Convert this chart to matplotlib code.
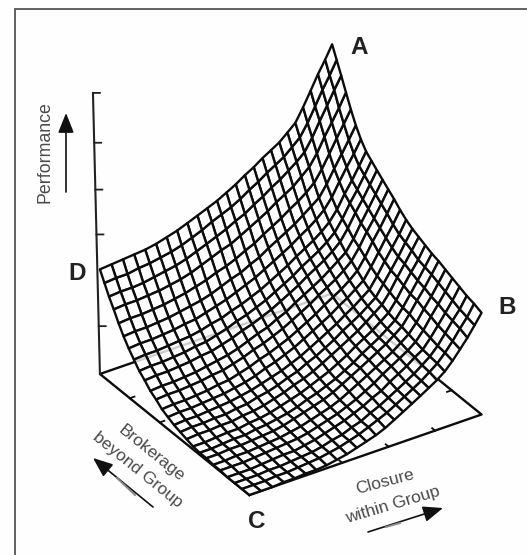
import numpy as np
import matplotlib
matplotlib.use("Agg")
import matplotlib.pyplot as plt
from matplotlib.patches import FancyArrowPatch
from mpl_toolkits.mplot3d import proj3d

plt.rcParams['font.family'] = ['Liberation Sans', 'DejaVu Sans']

# Performance surface (rows: brokerage, columns: closure)
performance = [
 [0,0,0,1,1,2,2,3,5,7,10,13,16,20,25,30,35,40,45,50,56,64,73,82,92,102],
 [0,0,0,1,1,2,3,4,6,8,11,14,18,22,26,31,36,41,46,52,58,66,75,85,94,105],
 [0,0,0,1,1,2,3,4,6,9,11,15,18,23,27,32,37,42,47,53,59,67,77,87,96,107],
 [0,0,0,1,2,3,3,5,7,10,13,16,20,24,29,33,39,44,49,55,60,69,79,89,99,110],
 [1,1,1,2,3,4,5,6,8,11,14,17,21,25,30,35,41,46,51,56,62,71,82,92,102,113],
 [1,1,2,2,3,4,5,7,9,12,15,18,22,27,32,37,42,47,52,58,64,73,84,94,105,116],
 [2,2,3,3,4,5,6,8,11,14,17,20,24,29,34,39,44,49,54,60,66,76,87,97,108,119],
 [2,2,3,4,4,6,7,9,11,14,18,21,25,29,34,39,45,50,55,61,67,77,88,99,110,121],
 [3,3,4,5,5,7,8,10,13,16,19,23,27,31,36,41,47,52,57,63,69,79,91,102,112,124],
 [5,6,6,7,7,9,10,12,15,18,22,25,29,34,39,44,49,54,60,66,72,82,94,105,116,127],
 [7,8,8,9,9,11,12,15,17,20,24,27,32,36,41,46,52,57,62,68,74,85,96,107,119,130],
 [9,10,10,11,12,13,15,17,20,23,26,30,34,39,44,49,54,60,65,71,77,88,100,111,122,134],
 [12,13,13,14,15,16,18,20,23,27,30,34,38,43,48,53,58,64,69,75,81,92,104,116,127,139],
 [15,16,16,17,18,20,21,24,27,31,34,38,42,47,52,57,63,68,73,79,86,97,110,121,133,145],
 [20,21,21,22,23,25,26,29,32,36,39,43,47,52,57,62,68,73,78,84,91,102,115,126,138,150],
 [24,25,25,26,27,29,31,33,36,40,44,47,52,56,62,67,72,77,83,89,95,106,119,131,143,155],
 [30,31,31,32,33,35,36,39,42,46,49,53,57,62,67,72,78,83,88,94,101,112,125,136,148,160],
 [35,36,36,37,38,40,41,44,47,51,54,58,62,67,72,77,83,88,93,99,106,117,130,141,153,165],
 [42,43,43,44,45,46,48,51,53,57,60,64,68,73,78,83,89,94,99,105,112,122,135,146,158,170],
 [49,50,50,51,52,54,55,58,61,64,68,72,76,81,86,91,96,102,107,113,120,130,143,155,166,178],
 [57,58,58,59,60,62,64,66,69,73,77,80,85,89,95,100,105,110,116,122,128,139,152,164,176,188],
 [66,67,67,68,69,71,73,76,79,83,86,90,95,99,105,110,115,121,126,132,139,150,163,176,188,200],
 [76,77,77,78,79,81,83,86,90,94,98,101,106,111,116,121,127,132,137,144,151,162,176,188,200,213],
 [85,86,86,87,89,91,93,96,100,104,108,112,117,121,127,132,138,143,149,155,162,174,188,201,214,226],
 [95,96,96,98,99,101,103,106,110,114,119,123,127,132,138,143,149,154,159,166,173,185,199,213,225,238],
 [105,106,107,108,109,111,114,117,121,125,129,133,138,143,149,154,160,165,170,177,184,197,211,225,237,250],
]
grid_levels = [0, .05, .0992, .1475, .195, .2417, .2875, .3325, .3767, .42, .4625, .5042, .545,
               .585, .6242, .6625, .70, .7367, .7725, .8075, .8417, .875, .9075, .9392, .97, 1]
performance_ticks = [48, 140, 185, 232, 282]
closure_ticks = [0.4, 0.6, 0.8]
brokerage_ticks_front = [0.6, 0.8]
brokerage_ticks_side = [0.2]
axis_tilt = (-0.021, 0.014)
corner_labels = ["A", "B", "C", "D"]

W, H = 527, 555
fig = plt.figure(figsize=(W / 100, H / 100), dpi=100, facecolor='#fefefe')
ax = fig.add_axes([0.1, 0.1, 0.8, 0.8], projection='3d', proj_type='ortho', computed_zorder=False)
ax.view_init(elev=32, azim=-123.2)
ax.set_box_aspect((278.6, 274, 295))
ax.set_xlim(0, 1, view_margin=0)
ax.set_ylim(0, 1, view_margin=0)
ax.set_zlim(0, 250, view_margin=0)
ax.set_axis_off()
ax.patch.set_alpha(0)

X, Y = np.meshgrid(grid_levels, grid_levels)
Z = np.array(performance, dtype=float)
ink = '#0c0c0c'

# base plane, drawn below the surface
ax.plot([0, 1, 1, 0, 0], [0, 0, 1, 1, 0], [0, 0, 0, 0, 0], color=ink, lw=1.7, zorder=1, clip_on=False)
for t in closure_ticks:
    ax.plot([t, t], [0, 0.02], [0, 0], color=ink, lw=1.3, zorder=1)
for t in brokerage_ticks_front:
    ax.plot([0, 0.02], [t, t], [0, 0], color=ink, lw=1.3, zorder=1)
for t in brokerage_ticks_side:
    ax.plot([1, 0.98], [t, t], [0, 0], color=ink, lw=1.3, zorder=1)

ax.plot_surface(X, Y, Z, rstride=1, cstride=1, color=(1, 1, 1, 0.8), edgecolor=ink,
                linewidth=1.7, shade=False, zorder=2, antialiased=True, clip_on=False)

# performance axis at the left corner, leaning slightly
top = performance_ticks[-1]
ax.plot([axis_tilt[0], 0], [1 + axis_tilt[1], 1], [top, 0], color='#222222', lw=1.5, zorder=3, clip_on=False)
for z in performance_ticks:
    f = z / top
    x0, y0 = axis_tilt[0] * f, 1 + axis_tilt[1] * f
    ax.plot([x0, x0 + 0.021], [y0, y0 - 0.014], [z, z], color='#222222', lw=1.3, zorder=3, clip_on=False)

# fit the axes box so that the base corners land where the reference has them
corners = np.array([[0, 0, 0], [1, 0, 0], [0, 1, 0], [1, 1, 0]], float)
targets = np.array([[250, H - 495], [483, H - 414], [100, H - 373], [330, H - 295]], float)
for _ in range(3):
    fig.canvas.draw()
    px, py, _z = proj3d.proj_transform(corners[:, 0], corners[:, 1], corners[:, 2], ax.M)
    cur = ax.transData.transform(np.column_stack([px, py]))
    frac = ax.transAxes.inverted().transform(cur)
    s = ax.get_window_extent().width
    c_cur, c_tar, c_f = cur.mean(0), targets.mean(0), frac.mean(0)
    scale = np.sum((targets - c_tar) * (cur - c_cur)) / np.sum((cur - c_cur) ** 2)
    s2 = s * scale
    l, b = c_tar - s2 * c_f
    ax.set_position([l / W, b / H, s2 / W, s2 / H])

# overlay in pixel space for the annotations
ov = fig.add_axes([0, 0, 1, 1], zorder=5)
ov.set_xlim(0, W)
ov.set_ylim(H, 0)
ov.axis('off')
ov.patch.set_alpha(0)
ov.plot([14.5, 14.5, W], [H, 9, 9], color='#555555', lw=1.3, solid_joinstyle='miter')

for lab, xy in zip(corner_labels, [(359, 48), (507, 308), (257, 522), (77, 274)]):
    ov.text(*xy, lab, fontsize=17.5, fontweight='bold', color='#222222', ha='center', va='center')

gray = '#4a4a4a'
ov.text(45, 152, "Performance", rotation=90, fontsize=12.8, color=gray, ha='center', va='center')
ov.text(151, 453, "Brokerage", rotation=-39, fontsize=12.5, color=gray, ha='center', va='center')
ov.text(138, 470, "beyond Group", rotation=-39, fontsize=12.5, color=gray, ha='center', va='center')
ov.text(385, 482, "Closure", rotation=15, fontsize=12.5, color=gray, ha='center', va='center')
ov.text(393, 505, "within Group", rotation=16.5, fontsize=12.5, color=gray, ha='center', va='center')

for a, b in [((66, 192), (66, 113)), ((153, 507), (93, 458)), ((368, 532), (443, 508))]:
    ov.add_patch(FancyArrowPatch(a, b, arrowstyle='-|>,head_length=5.5,head_width=2.2', mutation_scale=2.2,
                                 color='#111111', lw=1.2, shrinkA=0, shrinkB=0))
ov.plot([117, 135], [478, 495], color='#888888', lw=1.4)
ov.plot([386, 400], [527, 523], color='#888888', lw=1.4)

fig.savefig('out.png', dpi=100, facecolor=fig.get_facecolor())
